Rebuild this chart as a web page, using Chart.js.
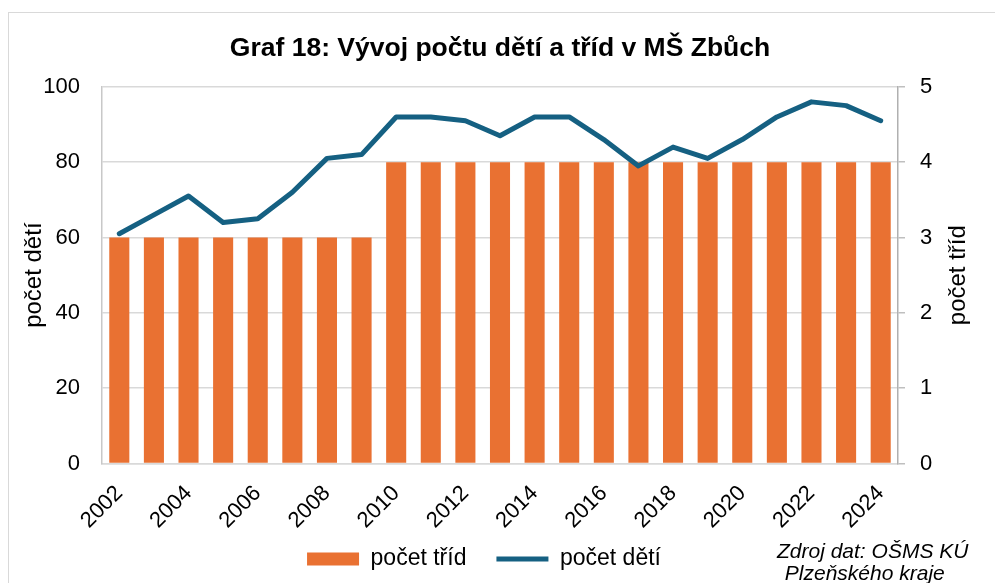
<!DOCTYPE html>
<html>
<head>
<meta charset="utf-8">
<script src="https://cdn.jsdelivr.net/npm/chart.js@4.4.1/dist/chart.umd.min.js"></script>
<style>
html,body{margin:0;padding:0;background:#fff;overflow:hidden;width:995px;height:583px;}
#frame{position:absolute;left:8px;top:12px;width:1100px;height:700px;border:1.5px solid #d9d9d9;box-sizing:border-box;}
#wrap{position:absolute;left:0;top:0;width:995px;height:583px;}
</style>
</head>
<body>
<div id="frame"></div>
<div id="wrap"><canvas id="c" width="995" height="583"></canvas></div>
<script>
// ---- data ----
const years = ['2002','2003','2004','2005','2006','2007','2008','2009','2010','2011','2012','2013',
               '2014','2015','2016','2017','2018','2019','2020','2021','2022','2023','2024'];
const classCounts = [3,3,3,3,3,3,3,3,4,4,4,4,4,4,4,4,4,4,4,4,4,4,4];
const childCounts = [61,66,71,64,65,72,81,82,92,92,91,87,92,92,86,79,84,81,86,92,96,95,91];
const leftTickValues = [0,20,40,60,80,100];
const rightTickValues = [0,1,2,3,4,5];
const chartTitle = 'Graf 18: Vývoj počtu dětí a tříd v MŠ Zbůch';
const leftAxisTitle = 'počet dětí';
const rightAxisTitle = 'počet tříd';
const classLabel = 'počet tříd';
const childLabel = 'počet dětí';
const sourceLines = ['Zdroj dat: OŠMS KÚ', ' Plzeňského kraje'];

const FONT = "'Liberation Sans', Arial, sans-serif";
Chart.defaults.font.family = FONT;
Chart.defaults.color = '#000';

// let rotated x labels extend below the (shortened) axis box
const noLabelClip = {
  id: 'noLabelClip',
  beforeDraw(chart) {
    const s = chart.scales.x;
    if (s) s._computeLabelArea = function () { return undefined; };
  }
};

const extraText = {
  id: 'extraText',
  afterDraw(chart) {
    const ctx = chart.ctx;
    const ca = chart.chartArea;
    ctx.save();
    ctx.fillStyle = '#000';
    // right axis title (reads bottom to top)
    ctx.font = '24px ' + FONT;
    ctx.translate(958, (ca.top + ca.bottom) / 2);
    ctx.rotate(-Math.PI / 2);
    ctx.textAlign = 'center';
    ctx.textBaseline = 'middle';
    ctx.fillText(rightAxisTitle, 0, 0);
    ctx.restore();
    // source note
    ctx.save();
    ctx.fillStyle = '#000';
    ctx.font = 'italic 21px ' + FONT;
    ctx.textAlign = 'left';
    ctx.textBaseline = 'middle';
    ctx.fillText(sourceLines[0], 777, 552);
    ctx.fillText(sourceLines[1], 779, 574);
    ctx.restore();
  }
};

new Chart(document.getElementById('c'), {
  type: 'bar',
  data: {
    labels: years,
    datasets: [
      {
        type: 'bar',
        label: classLabel,
        data: classCounts,
        yAxisID: 'y2',
        backgroundColor: '#E97132',
        borderWidth: 0,
        barPercentage: 0.58,
        categoryPercentage: 1.0,
        pointStyle: 'rect',
        order: 2
      },
      {
        type: 'line',
        label: childLabel,
        data: childCounts,
        yAxisID: 'y',
        borderColor: '#156082',
        backgroundColor: '#156082',
        borderWidth: 5,
        borderJoinStyle: 'round',
        borderCapStyle: 'round',
        tension: 0,
        pointRadius: 0,
        pointHoverRadius: 0,
        pointStyle: 'line',
        pointBorderWidth: 5,
        pointBorderColor: '#156082',
        fill: false,
        order: 1
      }
    ]
  },
  options: {
    responsive: false,
    animation: false,
    devicePixelRatio: 1,
    layout: { padding: { left: 0, right: 27, top: 0, bottom: 2.5 } },
    plugins: {
      title: {
        display: true,
        fullSize: false,
        text: chartTitle,
        color: '#000',
        font: { size: 26.5, weight: 'bold', family: FONT },
        padding: { top: 33, bottom: 22 }
      },
      legend: {
        display: true,
        position: 'bottom',
        fullSize: true,
        labels: {
          usePointStyle: true,
          pointStyleWidth: 52,
          boxWidth: 52,
          boxHeight: 13,
          padding: 30,
          color: '#000',
          font: { size: 23, family: FONT },
          sort: (a, b) => a.datasetIndex - b.datasetIndex
        }
      },
      tooltip: { enabled: false }
    },
    scales: {
      x: {
        type: 'category',
        offset: true,
        afterFit(s) { s.height = 54; },
        grid: { display: false, drawTicks: false },
        border: { display: true, color: '#d9d9d9', width: 1.5 },
        ticks: {
          autoSkip: false,
          minRotation: 45,
          maxRotation: 45,
          padding: 17,
          color: '#000',
          font: { size: 22, family: FONT },
          callback: function (v, i) { return i % 2 === 0 ? years[i] : ''; }
        }
      },
      y: {
        type: 'linear',
        position: 'left',
        min: 0,
        max: 100,
        afterFit(s) { s.width = 102; },
        afterBuildTicks(s) { s.ticks = leftTickValues.map(v => ({ value: v })); },
        grid: { color: '#d9d9d9', lineWidth: 1.5, drawTicks: false },
        border: { display: true, color: '#c8c8c8', width: 1.5 },
        ticks: { padding: 22, color: '#000', font: { size: 22, family: FONT } },
        title: {
          display: true,
          text: leftAxisTitle,
          color: '#000',
          font: { size: 24, family: FONT },
          padding: { top: 20, bottom: 0 }
        }
      },
      y2: {
        type: 'linear',
        position: 'right',
        min: 0,
        max: 5,
        afterFit(s) { s.width = 70; },
        afterBuildTicks(s) { s.ticks = rightTickValues.map(v => ({ value: v })); },
        grid: { drawOnChartArea: false, drawTicks: true, tickLength: 7, tickColor: '#bfbfbf', lineWidth: 1.5 },
        border: { display: true, color: '#b0b0b0', width: 1.5 },
        ticks: { padding: 15, color: '#000', font: { size: 22, family: FONT } }
      }
    }
  },
  plugins: [noLabelClip, extraText]
});
</script>
</body>
</html>
